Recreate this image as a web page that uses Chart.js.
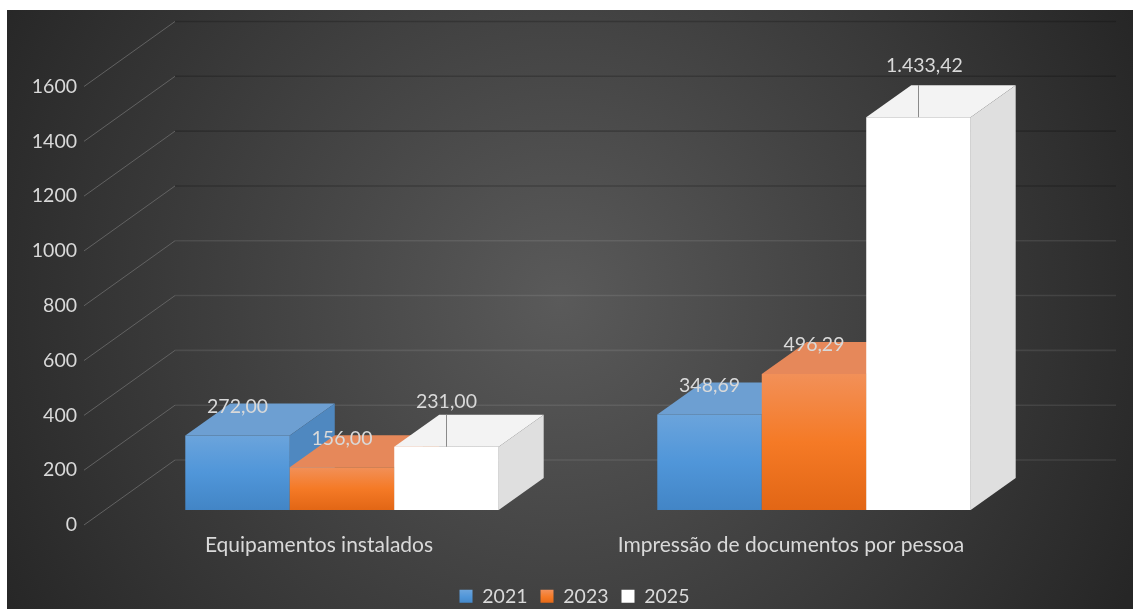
<!DOCTYPE html>
<html><head><meta charset="utf-8">
<style>html,body{margin:0;padding:0;background:#fff}#w{width:1133px;height:609px;position:relative}canvas{display:block}</style>
<script src="https://cdn.jsdelivr.net/npm/chart.js@4"></script>
</head><body><div id="w"><canvas id="c" width="1133" height="609"></canvas></div>
<script>
const categories = ["Equipamentos instalados", "Impressão de documentos por pessoa"];
const seriesNames = ["2021", "2023", "2025"];
const values2021 = [272.00, 348.69];
const values2023 = [156.00, 496.29];
const values2025 = [231.00, 1433.42];
const labels2021 = ["272,00", "348,69"];
const labels2023 = ["156,00", "496,29"];
const labels2025 = ["231,00", "1.433,42"];
const yTickStep = 200, yMax = 1600;

const FONT = 'Lato, "Open Sans", sans-serif', FS = 19.5, TXT = '#d9d9d9';
const WALL = {dx: 92, dy: 65}, BAR = {dx: 45, dy: 32, ox: 23, oy: 15};
const looks = [
  {stops: ['#6ba4dc', '#5096d9', '#4285c6'], top: '#6d9fd2', side: '#4f88c0', lift: 29, leader: false},
  {stops: ['#f29058', '#f57a26', '#e26615'], top: '#e6885a', side: '#c96a2c', lift: 29, leader: false},
  {stops: ['#ffffff', '#ffffff', '#ffffff'], top: '#f3f3f3', side: '#dfdfdf', lift: 45, leader: true}
];
const texts = [labels2021, labels2023, labels2025];
const canvas = document.getElementById('c'), g2 = canvas.getContext('2d');

function barFill(i) {
  return c => {
    if (c.dataIndex === undefined) return looks[i].stops[1];
    const s = c.chart.scales.y;
    const g = c.chart.ctx.createLinearGradient(0, s.getPixelForValue(c.dataset.data[c.dataIndex]), 0, s.getPixelForValue(0));
    g.addColorStop(0, looks[i].stops[0]); g.addColorStop(.5, looks[i].stops[1]); g.addColorStop(1, looks[i].stops[2]);
    return g;
  };
}
function swatch(i) {
  const g = g2.createLinearGradient(0, 590, 0, 604);
  g.addColorStop(0, looks[i].stops[0]); g.addColorStop(.5, looks[i].stops[1]); g.addColorStop(1, looks[i].stops[2]);
  return g;
}
function poly(ctx, pts, col) {
  ctx.fillStyle = col; ctx.beginPath();
  pts.forEach((p, i) => i ? ctx.lineTo(p[0], p[1]) : ctx.moveTo(p[0], p[1]));
  ctx.closePath(); ctx.fill();
}
const scene = {
  id: 'scene',
  beforeDraw(chart) {
    const ctx = chart.ctx;
    const g = ctx.createRadialGradient(560, 300, 0, 560, 300, 640);
    g.addColorStop(0, '#5a5a5a'); g.addColorStop(1, '#262626');
    ctx.save(); ctx.fillStyle = g; ctx.fillRect(7, 10, 1126, 599); ctx.restore();
  },
  afterLayout(chart) {
    const l = chart.legend;
    l.top += 7; l.bottom += 7; l.left += 61; l.right += 61;
  },
  beforeDatasetsDraw(chart) {
    const ctx = chart.ctx, y = chart.scales.y, a = chart.chartArea;
    ctx.save();
    y.ticks.forEach(t => {
      const p = y.getPixelForValue(t.value);
      ctx.strokeStyle = '#626262'; ctx.lineWidth = 1;
      ctx.beginPath(); ctx.moveTo(a.left + 1, p); ctx.lineTo(a.left + WALL.dx, p - WALL.dy); ctx.stroke();
      ctx.strokeStyle = t.value >= 1000 ? 'rgba(0,0,0,.2)' : 'rgba(255,255,255,.09)'; ctx.lineWidth = 1.6;
      ctx.beginPath(); ctx.moveTo(a.left + WALL.dx, p - WALL.dy); ctx.lineTo(a.right + WALL.dx - 3, p - WALL.dy); ctx.stroke();
    });
    ctx.translate(BAR.ox, -BAR.oy);
    chart.getSortedVisibleDatasetMetas().forEach((m, i) => {
      m.data.forEach(b => {
        const L = b.x - b.width / 2, R = b.x + b.width / 2;
        poly(ctx, [[L, b.y], [L + BAR.dx, b.y - BAR.dy], [R + BAR.dx, b.y - BAR.dy], [R, b.y]], looks[i].top);
        poly(ctx, [[R, b.y], [R + BAR.dx, b.y - BAR.dy], [R + BAR.dx, b.base - BAR.dy], [R, b.base]], looks[i].side);
      });
      m.controller.draw();
    });
    chart.getSortedVisibleDatasetMetas().forEach((m, i) => {
      m.data.forEach((b, j) => {
        if (looks[i].leader) {
          ctx.strokeStyle = '#8a8a8a'; ctx.lineWidth = 1;
          ctx.beginPath(); ctx.moveTo(Math.round(b.x) + .5, b.y); ctx.lineTo(Math.round(b.x) + .5, b.y - BAR.dy); ctx.stroke();
        }
        ctx.fillStyle = TXT; ctx.font = FS + 'px ' + FONT;
        ctx.textAlign = 'center'; ctx.textBaseline = 'middle';
        const far = i === 2 && j === 1;
        ctx.fillText(texts[i][j], b.x + (far ? 6 : 0), b.y - looks[i].lift - (far ? 6 : 0));
      });
    });
    ctx.restore();
    return false;
  }
};
new Chart(canvas, {
  type: 'bar',
  data: {
    labels: categories,
    datasets: [values2021, values2023, values2025].map((v, i) => ({
      label: seriesNames[i], data: v, backgroundColor: barFill(i), borderWidth: 0,
      categoryPercentage: .664, barPercentage: 1
    }))
  },
  options: {
    responsive: false, animation: false,
    layout: {padding: {top: 86.5, left: 0, right: 106, bottom: 0}},
    plugins: {
      tooltip: {enabled: false},
      legend: {
        position: 'bottom',
        labels: {
          boxWidth: 13, boxHeight: 13, padding: 13, color: TXT, font: {family: FONT, size: FS},
          generateLabels: ch => ch.data.datasets.map((d, i) => ({
            text: d.label, fillStyle: swatch(i), strokeStyle: 'transparent', lineWidth: 0, fontColor: TXT, datasetIndex: i
          }))
        }
      }
    },
    scales: {
      x: {
        grid: {display: false, drawTicks: false}, border: {display: false},
        ticks: {color: TXT, font: {family: FONT, size: 21}, padding: 7.5, maxRotation: 0},
        afterFit(s) { s.height = 84 - (s.chart.legend ? s.chart.legend.height : 0); }
      },
      y: {
        min: 0, max: yMax,
        grid: {display: false, drawTicks: false}, border: {display: false},
        ticks: {stepSize: yTickStep, color: TXT, font: {family: FONT, size: FS}, padding: 6, callback: v => String(v)},
        afterFit(s) { s.width = 83; }
      }
    }
  },
  plugins: [scene]
});
</script></body></html>
